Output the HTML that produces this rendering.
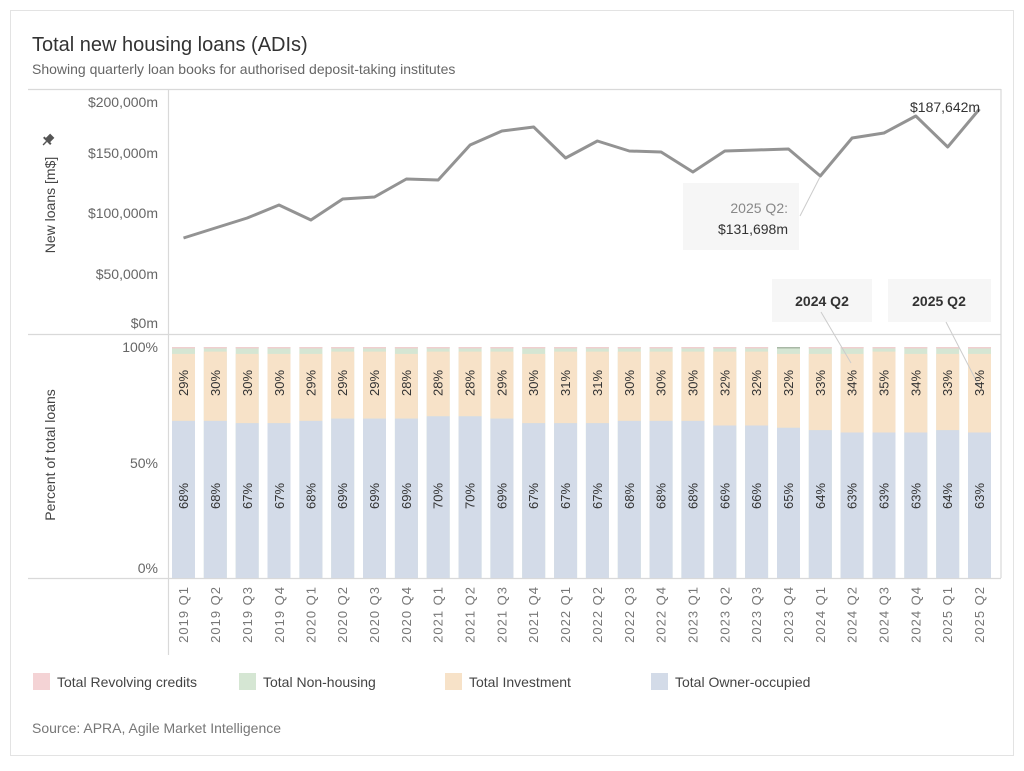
<!DOCTYPE html>
<html><head><meta charset="utf-8"><style>
body{margin:0;background:#fff;width:1024px;height:766px;overflow:hidden;font-family:"Liberation Sans",sans-serif}
svg text{font-family:"Liberation Sans",sans-serif}
.ax{fill:#666;font-size:14px}
.bl{fill:#333;font-size:13px}
.xl{fill:#777;font-size:13px;letter-spacing:1px}
</style></head><body>
<svg width="1024" height="766" viewBox="0 0 1024 766" xmlns="http://www.w3.org/2000/svg">
<rect x="10.5" y="10.5" width="1003" height="745" fill="#fff" stroke="#e3e3e3"/>
<text x="32" y="51" font-size="20" fill="#333">Total new housing loans (ADIs)</text>
<text x="32" y="74" font-size="14" fill="#666">Showing quarterly loan books for authorised deposit-taking institutes</text>
<g stroke="#d9d9d9" stroke-width="1.2">
<line x1="28" y1="89.5" x2="1001" y2="89.5"/>
<line x1="28" y1="334.5" x2="1001" y2="334.5"/>
<line x1="28" y1="578.5" x2="1001" y2="578.5"/>
<line x1="168.5" y1="89" x2="168.5" y2="655"/>
<line x1="1001" y1="89" x2="1001" y2="578"/>
</g>
<g class="ax" text-anchor="end">
<text x="158" y="107">$200,000m</text>
<text x="158" y="158">$150,000m</text>
<text x="158" y="218">$100,000m</text>
<text x="158" y="279">$50,000m</text>
<text x="158" y="328">$0m</text>
<text x="158" y="352">100%</text>
<text x="158" y="468">50%</text>
<text x="158" y="573">0%</text>
</g>
<text transform="translate(55,205) rotate(-90)" text-anchor="middle" font-size="14" fill="#444">New loans [m$]</text>
<g transform="translate(48,140) rotate(45)" fill="#555"><rect x="-3" y="-6" width="6" height="7"/><rect x="-5" y="0" width="10" height="2"/><rect x="-0.7" y="2" width="1.4" height="5"/></g>
<text transform="translate(55,455) rotate(-90)" text-anchor="middle" font-size="14" fill="#444">Percent of total loans</text>
<polyline fill="none" stroke="#939393" stroke-width="3" stroke-linejoin="round" points="183.5,238 215.3,228 247.2,218 279,205 310.9,220 342.7,199 374.5,197 406.4,179 438.2,180 470.1,145 501.9,131 533.7,127 565.6,158 597.4,141 629.3,151 661.1,152 692.9,172 724.8,151 756.6,150 788.5,149 820.3,176 852.1,138 884,133 915.8,116 947.7,147 979.5,109"/>
<text x="910" y="112" font-size="14" fill="#333">$187,642m</text>
<rect x="683" y="183" width="116" height="67" fill="#f6f6f6"/>
<line x1="800" y1="216" x2="820" y2="177" stroke="#ccc"/>
<text x="788" y="213" text-anchor="end" font-size="14" fill="#888">2025 Q2:</text>
<text x="788" y="234" text-anchor="end" font-size="14" fill="#333">$131,698m</text>
<rect x="772" y="279" width="100" height="43" fill="#f6f6f6"/>
<rect x="888" y="279" width="103" height="43" fill="#f6f6f6"/>
<text x="822" y="306" text-anchor="middle" font-size="14" font-weight="bold" fill="#333">2024 Q2</text>
<text x="939" y="306" text-anchor="middle" font-size="14" font-weight="bold" fill="#333">2025 Q2</text>
<g id="bars">
<g transform="translate(172,0)"><rect y="347" width="23" height="231" fill="#d5e6d3"/><rect y="347" width="23" height="1.5" fill="#f0cfcf"/><rect y="353.9" width="23" height="67" fill="#f7e2c8"/><rect y="420.9" width="23" height="157.1" fill="#d3dbe8"/></g>
<g transform="translate(203.8,0)"><rect y="347" width="23" height="231" fill="#d5e6d3"/><rect y="347" width="23" height="1.5" fill="#f0cfcf"/><rect y="351.6" width="23" height="69.3" fill="#f7e2c8"/><rect y="420.9" width="23" height="157.1" fill="#d3dbe8"/></g>
<g transform="translate(235.7,0)"><rect y="347" width="23" height="231" fill="#d5e6d3"/><rect y="347" width="23" height="1.5" fill="#f0cfcf"/><rect y="353.9" width="23" height="69.3" fill="#f7e2c8"/><rect y="423.2" width="23" height="154.8" fill="#d3dbe8"/></g>
<g transform="translate(267.5,0)"><rect y="347" width="23" height="231" fill="#d5e6d3"/><rect y="347" width="23" height="1.5" fill="#f0cfcf"/><rect y="353.9" width="23" height="69.3" fill="#f7e2c8"/><rect y="423.2" width="23" height="154.8" fill="#d3dbe8"/></g>
<g transform="translate(299.4,0)"><rect y="347" width="23" height="231" fill="#d5e6d3"/><rect y="347" width="23" height="1.5" fill="#f0cfcf"/><rect y="353.9" width="23" height="67" fill="#f7e2c8"/><rect y="420.9" width="23" height="157.1" fill="#d3dbe8"/></g>
<g transform="translate(331.2,0)"><rect y="347" width="23" height="231" fill="#d5e6d3"/><rect y="347" width="23" height="1.5" fill="#f0cfcf"/><rect y="351.6" width="23" height="67" fill="#f7e2c8"/><rect y="418.6" width="23" height="159.4" fill="#d3dbe8"/></g>
<g transform="translate(363,0)"><rect y="347" width="23" height="231" fill="#d5e6d3"/><rect y="347" width="23" height="1.5" fill="#f0cfcf"/><rect y="351.6" width="23" height="67" fill="#f7e2c8"/><rect y="418.6" width="23" height="159.4" fill="#d3dbe8"/></g>
<g transform="translate(394.9,0)"><rect y="347" width="23" height="231" fill="#d5e6d3"/><rect y="347" width="23" height="1.5" fill="#f0cfcf"/><rect y="353.9" width="23" height="64.7" fill="#f7e2c8"/><rect y="418.6" width="23" height="159.4" fill="#d3dbe8"/></g>
<g transform="translate(426.7,0)"><rect y="347" width="23" height="231" fill="#d5e6d3"/><rect y="347" width="23" height="1.5" fill="#f0cfcf"/><rect y="351.6" width="23" height="64.7" fill="#f7e2c8"/><rect y="416.3" width="23" height="161.7" fill="#d3dbe8"/></g>
<g transform="translate(458.6,0)"><rect y="347" width="23" height="231" fill="#d5e6d3"/><rect y="347" width="23" height="1.5" fill="#f0cfcf"/><rect y="351.6" width="23" height="64.7" fill="#f7e2c8"/><rect y="416.3" width="23" height="161.7" fill="#d3dbe8"/></g>
<g transform="translate(490.4,0)"><rect y="347" width="23" height="231" fill="#d5e6d3"/><rect y="347" width="23" height="1.5" fill="#f0cfcf"/><rect y="351.6" width="23" height="67" fill="#f7e2c8"/><rect y="418.6" width="23" height="159.4" fill="#d3dbe8"/></g>
<g transform="translate(522.2,0)"><rect y="347" width="23" height="231" fill="#d5e6d3"/><rect y="347" width="23" height="1.5" fill="#f0cfcf"/><rect y="353.9" width="23" height="69.3" fill="#f7e2c8"/><rect y="423.2" width="23" height="154.8" fill="#d3dbe8"/></g>
<g transform="translate(554.1,0)"><rect y="347" width="23" height="231" fill="#d5e6d3"/><rect y="347" width="23" height="1.5" fill="#f0cfcf"/><rect y="351.6" width="23" height="71.6" fill="#f7e2c8"/><rect y="423.2" width="23" height="154.8" fill="#d3dbe8"/></g>
<g transform="translate(585.9,0)"><rect y="347" width="23" height="231" fill="#d5e6d3"/><rect y="347" width="23" height="1.5" fill="#f0cfcf"/><rect y="351.6" width="23" height="71.6" fill="#f7e2c8"/><rect y="423.2" width="23" height="154.8" fill="#d3dbe8"/></g>
<g transform="translate(617.8,0)"><rect y="347" width="23" height="231" fill="#d5e6d3"/><rect y="347" width="23" height="1.5" fill="#f0cfcf"/><rect y="351.6" width="23" height="69.3" fill="#f7e2c8"/><rect y="420.9" width="23" height="157.1" fill="#d3dbe8"/></g>
<g transform="translate(649.6,0)"><rect y="347" width="23" height="231" fill="#d5e6d3"/><rect y="347" width="23" height="1.5" fill="#f0cfcf"/><rect y="351.6" width="23" height="69.3" fill="#f7e2c8"/><rect y="420.9" width="23" height="157.1" fill="#d3dbe8"/></g>
<g transform="translate(681.4,0)"><rect y="347" width="23" height="231" fill="#d5e6d3"/><rect y="347" width="23" height="1.5" fill="#f0cfcf"/><rect y="351.6" width="23" height="69.3" fill="#f7e2c8"/><rect y="420.9" width="23" height="157.1" fill="#d3dbe8"/></g>
<g transform="translate(713.3,0)"><rect y="347" width="23" height="231" fill="#d5e6d3"/><rect y="347" width="23" height="1.5" fill="#f0cfcf"/><rect y="351.6" width="23" height="73.9" fill="#f7e2c8"/><rect y="425.5" width="23" height="152.5" fill="#d3dbe8"/></g>
<g transform="translate(745.1,0)"><rect y="347" width="23" height="231" fill="#d5e6d3"/><rect y="347" width="23" height="1.5" fill="#f0cfcf"/><rect y="351.6" width="23" height="73.9" fill="#f7e2c8"/><rect y="425.5" width="23" height="152.5" fill="#d3dbe8"/></g>
<g transform="translate(777,0)"><rect y="347" width="23" height="231" fill="#d5e6d3"/><rect y="347" width="23" height="1.5" fill="#a9b8a6"/><rect y="353.9" width="23" height="73.9" fill="#f7e2c8"/><rect y="427.8" width="23" height="150.2" fill="#d3dbe8"/></g>
<g transform="translate(808.8,0)"><rect y="347" width="23" height="231" fill="#d5e6d3"/><rect y="347" width="23" height="1.5" fill="#f0cfcf"/><rect y="353.9" width="23" height="76.3" fill="#f7e2c8"/><rect y="430.2" width="23" height="147.8" fill="#d3dbe8"/></g>
<g transform="translate(840.6,0)"><rect y="347" width="23" height="231" fill="#d5e6d3"/><rect y="347" width="23" height="1.5" fill="#f0cfcf"/><rect y="353.9" width="23" height="78.6" fill="#f7e2c8"/><rect y="432.5" width="23" height="145.5" fill="#d3dbe8"/></g>
<g transform="translate(872.5,0)"><rect y="347" width="23" height="231" fill="#d5e6d3"/><rect y="347" width="23" height="1.5" fill="#f0cfcf"/><rect y="351.6" width="23" height="80.9" fill="#f7e2c8"/><rect y="432.5" width="23" height="145.5" fill="#d3dbe8"/></g>
<g transform="translate(904.3,0)"><rect y="347" width="23" height="231" fill="#d5e6d3"/><rect y="347" width="23" height="1.5" fill="#f0cfcf"/><rect y="353.9" width="23" height="78.6" fill="#f7e2c8"/><rect y="432.5" width="23" height="145.5" fill="#d3dbe8"/></g>
<g transform="translate(936.2,0)"><rect y="347" width="23" height="231" fill="#d5e6d3"/><rect y="347" width="23" height="1.5" fill="#f0cfcf"/><rect y="353.9" width="23" height="76.3" fill="#f7e2c8"/><rect y="430.2" width="23" height="147.8" fill="#d3dbe8"/></g>
<g transform="translate(968,0)"><rect y="347" width="23" height="231" fill="#d5e6d3"/><rect y="347" width="23" height="1.5" fill="#f0cfcf"/><rect y="353.9" width="23" height="78.6" fill="#f7e2c8"/><rect y="432.5" width="23" height="145.5" fill="#d3dbe8"/></g>
</g>
<line x1="821" y1="312" x2="851" y2="363" stroke="#ccc"/>
<line x1="946" y1="322" x2="979" y2="386" stroke="#ccc"/>
<g class="bl" text-anchor="middle">
<text transform="translate(188,383) rotate(-90)">29%</text><text transform="translate(188,496) rotate(-90)">68%</text>
<text transform="translate(220,383) rotate(-90)">30%</text><text transform="translate(220,496) rotate(-90)">68%</text>
<text transform="translate(252,383) rotate(-90)">30%</text><text transform="translate(252,496) rotate(-90)">67%</text>
<text transform="translate(284,383) rotate(-90)">30%</text><text transform="translate(284,496) rotate(-90)">67%</text>
<text transform="translate(315.4,383) rotate(-90)">29%</text><text transform="translate(315.4,496) rotate(-90)">68%</text>
<text transform="translate(347.2,383) rotate(-90)">29%</text><text transform="translate(347.2,496) rotate(-90)">69%</text>
<text transform="translate(379,383) rotate(-90)">29%</text><text transform="translate(379,496) rotate(-90)">69%</text>
<text transform="translate(410.9,383) rotate(-90)">28%</text><text transform="translate(410.9,496) rotate(-90)">69%</text>
<text transform="translate(442.7,383) rotate(-90)">28%</text><text transform="translate(442.7,496) rotate(-90)">70%</text>
<text transform="translate(474.6,383) rotate(-90)">28%</text><text transform="translate(474.6,496) rotate(-90)">70%</text>
<text transform="translate(506.4,383) rotate(-90)">29%</text><text transform="translate(506.4,496) rotate(-90)">69%</text>
<text transform="translate(538.2,383) rotate(-90)">30%</text><text transform="translate(538.2,496) rotate(-90)">67%</text>
<text transform="translate(570.1,383) rotate(-90)">31%</text><text transform="translate(570.1,496) rotate(-90)">67%</text>
<text transform="translate(601.9,383) rotate(-90)">31%</text><text transform="translate(601.9,496) rotate(-90)">67%</text>
<text transform="translate(633.8,383) rotate(-90)">30%</text><text transform="translate(633.8,496) rotate(-90)">68%</text>
<text transform="translate(665.6,383) rotate(-90)">30%</text><text transform="translate(665.6,496) rotate(-90)">68%</text>
<text transform="translate(697.4,383) rotate(-90)">30%</text><text transform="translate(697.4,496) rotate(-90)">68%</text>
<text transform="translate(729.3,383) rotate(-90)">32%</text><text transform="translate(729.3,496) rotate(-90)">66%</text>
<text transform="translate(761.1,383) rotate(-90)">32%</text><text transform="translate(761.1,496) rotate(-90)">66%</text>
<text transform="translate(793,383) rotate(-90)">32%</text><text transform="translate(793,496) rotate(-90)">65%</text>
<text transform="translate(824.8,383) rotate(-90)">33%</text><text transform="translate(824.8,496) rotate(-90)">64%</text>
<text transform="translate(856.6,383) rotate(-90)">34%</text><text transform="translate(856.6,496) rotate(-90)">63%</text>
<text transform="translate(888.5,383) rotate(-90)">35%</text><text transform="translate(888.5,496) rotate(-90)">63%</text>
<text transform="translate(920.3,383) rotate(-90)">34%</text><text transform="translate(920.3,496) rotate(-90)">63%</text>
<text transform="translate(952.2,383) rotate(-90)">33%</text><text transform="translate(952.2,496) rotate(-90)">64%</text>
<text transform="translate(984,383) rotate(-90)">34%</text><text transform="translate(984,496) rotate(-90)">63%</text>
</g>
<g class="xl" text-anchor="end">
<text transform="translate(188,586) rotate(-90)">2019 Q1</text>
<text transform="translate(220,586) rotate(-90)">2019 Q2</text>
<text transform="translate(252,586) rotate(-90)">2019 Q3</text>
<text transform="translate(284,586) rotate(-90)">2019 Q4</text>
<text transform="translate(315.4,586) rotate(-90)">2020 Q1</text>
<text transform="translate(347.2,586) rotate(-90)">2020 Q2</text>
<text transform="translate(379,586) rotate(-90)">2020 Q3</text>
<text transform="translate(410.9,586) rotate(-90)">2020 Q4</text>
<text transform="translate(442.7,586) rotate(-90)">2021 Q1</text>
<text transform="translate(474.6,586) rotate(-90)">2021 Q2</text>
<text transform="translate(506.4,586) rotate(-90)">2021 Q3</text>
<text transform="translate(538.2,586) rotate(-90)">2021 Q4</text>
<text transform="translate(570.1,586) rotate(-90)">2022 Q1</text>
<text transform="translate(601.9,586) rotate(-90)">2022 Q2</text>
<text transform="translate(633.8,586) rotate(-90)">2022 Q3</text>
<text transform="translate(665.6,586) rotate(-90)">2022 Q4</text>
<text transform="translate(697.4,586) rotate(-90)">2023 Q1</text>
<text transform="translate(729.3,586) rotate(-90)">2023 Q2</text>
<text transform="translate(761.1,586) rotate(-90)">2023 Q3</text>
<text transform="translate(793,586) rotate(-90)">2023 Q4</text>
<text transform="translate(824.8,586) rotate(-90)">2024 Q1</text>
<text transform="translate(856.6,586) rotate(-90)">2024 Q2</text>
<text transform="translate(888.5,586) rotate(-90)">2024 Q3</text>
<text transform="translate(920.3,586) rotate(-90)">2024 Q4</text>
<text transform="translate(952.2,586) rotate(-90)">2025 Q1</text>
<text transform="translate(984,586) rotate(-90)">2025 Q2</text>
</g>
<rect x="33" y="673" width="17" height="17" fill="#f4d3d5"/>
<text x="57" y="687" font-size="14" fill="#444">Total Revolving credits</text>
<rect x="239" y="673" width="17" height="17" fill="#d5e6d3"/>
<text x="263" y="687" font-size="14" fill="#444">Total Non-housing</text>
<rect x="445" y="673" width="17" height="17" fill="#f7e2c8"/>
<text x="469" y="687" font-size="14" fill="#444">Total Investment</text>
<rect x="651" y="673" width="17" height="17" fill="#d3dbe8"/>
<text x="675" y="687" font-size="14" fill="#444">Total Owner-occupied</text>
<text x="32" y="733" font-size="14" fill="#777">Source: APRA, Agile Market Intelligence</text>
</svg>
</body></html>
